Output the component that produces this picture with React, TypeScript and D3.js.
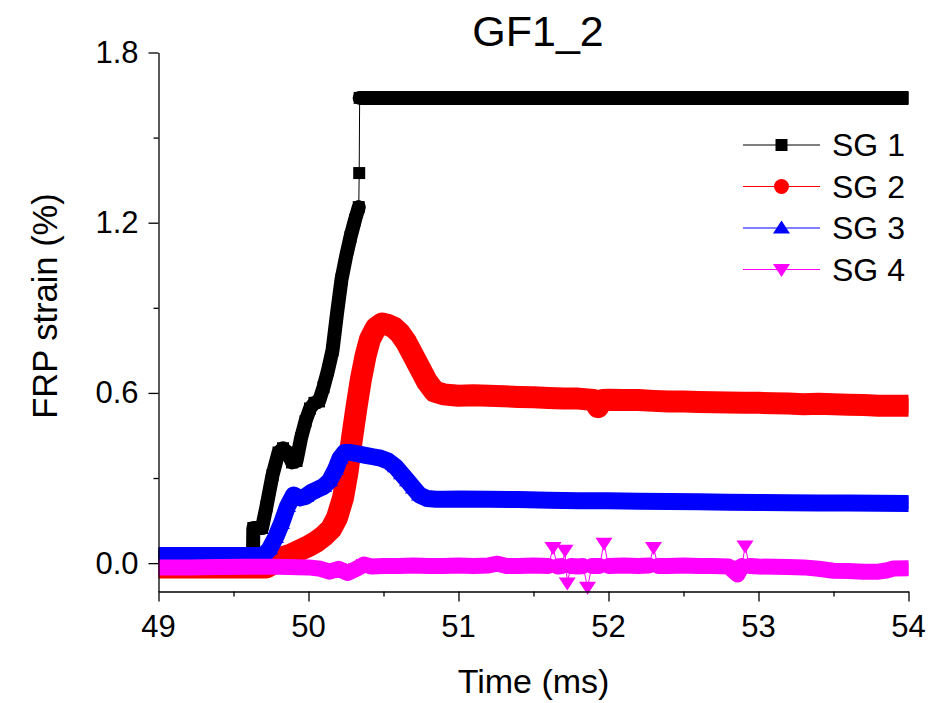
import React, { useEffect, useRef } from 'react';
import * as d3 from 'd3';

type Pt = [number, number];

// values (time in ms, strain in %)
const xTicks = [49, 50, 51, 52, 53, 54];
const xMinor = [49.5, 50.5, 51.5, 52.5, 53.5];
const yTicks = [0, 0.6, 1.2, 1.8];
const yMinor = [0.3, 0.9, 1.5];
const seriesNames = ['SG 1', 'SG 2', 'SG 3', 'SG 4'];

// each series is split where the logger jumps (thin line only between pieces)
const sg1: Pt[][] = [
  [[49.0, 0.025], [49.2, 0.025], [49.4, 0.025], [49.63, 0.025], [49.632, 0.124], [49.66, 0.124], [49.69, 0.124],
   [49.72, 0.2], [49.76, 0.31], [49.8, 0.39], [49.83, 0.405], [49.86, 0.39], [49.89, 0.355], [49.92, 0.36],
   [49.95, 0.44], [49.98, 0.5], [50.01, 0.545], [50.04, 0.565], [50.07, 0.57], [50.1, 0.62], [50.13, 0.68],
   [50.16, 0.75], [50.19, 0.88], [50.22, 1.0], [50.25, 1.08], [50.28, 1.15], [50.31, 1.21], [50.335, 1.255]],
  [[50.338, 1.375]],
  [[50.341, 1.64], [51, 1.64], [52, 1.64], [53, 1.64], [54, 1.64]],
];

const sg2: Pt[][] = [
  [[49.0, -0.015], [49.2, -0.015], [49.4, -0.015], [49.6, -0.015], [49.72, -0.015], [49.77, 0.0], [49.82, 0.02],
   [49.88, 0.03], [49.94, 0.045], [50.0, 0.06], [50.05, 0.075], [50.1, 0.095], [50.15, 0.12], [50.19, 0.16],
   [50.23, 0.23], [50.26, 0.32], [50.29, 0.44], [50.32, 0.55], [50.35, 0.65], [50.38, 0.73], [50.41, 0.79],
   [50.45, 0.83], [50.49, 0.845], [50.53, 0.84], [50.57, 0.83], [50.61, 0.81], [50.65, 0.78], [50.69, 0.74],
   [50.74, 0.69], [50.79, 0.64], [50.84, 0.605], [50.9, 0.595], [51.0, 0.59], [51.1, 0.592], [51.2, 0.59],
   [51.3, 0.588], [51.4, 0.586], [51.5, 0.585], [51.6, 0.582], [51.7, 0.58], [51.8, 0.58], [51.9, 0.575],
   [51.93, 0.55], [51.96, 0.575], [52.0, 0.576], [52.1, 0.575], [52.2, 0.575], [52.3, 0.572], [52.4, 0.57],
   [52.5, 0.57], [52.6, 0.568], [52.7, 0.567], [52.8, 0.566], [52.9, 0.565], [53.0, 0.565], [53.1, 0.564],
   [53.2, 0.563], [53.3, 0.56], [53.4, 0.562], [53.5, 0.56], [53.6, 0.558], [53.7, 0.557], [53.8, 0.555],
   [53.9, 0.555], [54.0, 0.555]],
];

const sg3: Pt[][] = [
  [[49.0, 0.027], [49.2, 0.027], [49.4, 0.027], [49.6, 0.027], [49.7, 0.027], [49.74, 0.05], [49.78, 0.09],
   [49.82, 0.14], [49.86, 0.2], [49.9, 0.24], [49.94, 0.23], [49.98, 0.235], [50.02, 0.25], [50.06, 0.26],
   [50.1, 0.27], [50.14, 0.29], [50.18, 0.33], [50.21, 0.37], [50.24, 0.39], [50.28, 0.39], [50.33, 0.385],
   [50.38, 0.38], [50.43, 0.375], [50.48, 0.37], [50.53, 0.36], [50.58, 0.34], [50.62, 0.315], [50.66, 0.29],
   [50.7, 0.265], [50.74, 0.24], [50.79, 0.228], [50.85, 0.225], [50.9, 0.225], [51.0, 0.226], [51.2, 0.225],
   [51.4, 0.224], [51.6, 0.222], [51.8, 0.22], [52.0, 0.22], [52.2, 0.218], [52.4, 0.217], [52.6, 0.216],
   [52.8, 0.215], [53.0, 0.214], [53.2, 0.213], [53.4, 0.212], [53.6, 0.212], [53.8, 0.211], [54.0, 0.21]],
];

const sg4: Pt[][] = [
  [[49.0, -0.015], [49.2, -0.015], [49.4, -0.014], [49.6, -0.013], [49.8, -0.013], [50.0, -0.015], [50.08, -0.02],
   [50.14, -0.03], [50.2, -0.02], [50.26, -0.035], [50.32, -0.02], [50.37, -0.005], [50.42, -0.012], [50.5, -0.01],
   [50.6, -0.01], [50.7, -0.008], [50.8, -0.01], [50.9, -0.01], [51.0, -0.008], [51.1, -0.01], [51.2, -0.008],
   [51.26, -0.002], [51.32, -0.01], [51.4, -0.01], [51.5, -0.008], [51.6, -0.01]],
  [[51.63, 0.055]],
  [[51.66, -0.012], [51.69, -0.01]],
  [[51.71, 0.045]],
  [[51.725, -0.07]],
  [[51.75, -0.01], [51.8, -0.012], [51.83, -0.01]],
  [[51.86, -0.085]],
  [[51.89, -0.01], [51.94, -0.01]],
  [[51.97, 0.07]],
  [[52.0, -0.01], [52.1, -0.008], [52.2, -0.01], [52.27, -0.008]],
  [[52.3, 0.055]],
  [[52.33, -0.01], [52.4, -0.01], [52.5, -0.008], [52.6, -0.01], [52.7, -0.01], [52.8, -0.012], [52.86, -0.04], [52.89, -0.01]],
  [[52.91, 0.06]],
  [[52.94, -0.01], [53.0, -0.012], [53.1, -0.013], [53.2, -0.014], [53.3, -0.015], [53.4, -0.02], [53.5, -0.027],
   [53.6, -0.028], [53.7, -0.03], [53.8, -0.03], [53.86, -0.025], [53.9, -0.019], [54.0, -0.018]],
];

const allSeries = [sg1, sg2, sg3, sg4];
const colors = ['#000000', '#ff0000', '#0000ff', '#ff00ff'];
const bandWidth = [14, 22, 17, 16];
const markers = [
  'M-6,-6h12v12h-12z',
  d3.symbol(d3.symbolCircle, Math.PI * 7.5 * 7.5)() as string,
  'M0,-7.5L8.5,5.5L-8.5,5.5Z',
  'M0,7.5L8.5,-5.5L-8.5,-5.5Z',
];

const FONT = 'Liberation Sans, Arial, Helvetica, sans-serif';

const App = () => {
  const svgRef = useRef<SVGSVGElement>(null);

  useEffect(() => {
    const width = 933;
    const height = 703;
    const margin = { top: 52.5, right: 24.5, bottom: 111.5, left: 158.5 };

    const svg = d3.select(svgRef.current);
    svg.selectAll('*').remove();

    const x = d3.scaleLinear().domain([49, 54]).range([margin.left, width - margin.right]);
    const y = d3.scaleLinear().domain([-0.1, 1.8]).range([height - margin.bottom, margin.top]);

    svg.append('clipPath').attr('id', 'plotClip')
      .append('rect')
      .attr('x', margin.left).attr('y', 0)
      .attr('width', width - margin.left - margin.right).attr('height', height);

    const line = d3.line<Pt>().x(d => x(d[0])).y(d => y(d[1]));

    const plot = svg.append('g').attr('clip-path', 'url(#plotClip)');

    allSeries.forEach((segs, i) => {
      const g = plot.append('g');
      // thin connecting line through every point
      g.append('path')
        .datum(segs.flat())
        .attr('d', line)
        .attr('fill', 'none')
        .attr('stroke', colors[i])
        .attr('stroke-width', 1);
      // dense markers merge into a band
      segs.filter(s => s.length > 1).forEach(s => {
        g.append('path')
          .datum(s)
          .attr('d', line)
          .attr('fill', 'none')
          .attr('stroke', colors[i])
          .attr('stroke-width', bandWidth[i])
          .attr('stroke-linejoin', 'round')
          .attr('stroke-linecap', 'round');
      });
      g.selectAll('path.mk')
        .data(segs.flat())
        .join('path')
        .attr('class', 'mk')
        .attr('d', markers[i])
        .attr('transform', d => `translate(${x(d[0])},${y(d[1])})`)
        .attr('fill', colors[i]);
    });

    // axes
    const xAxis = svg.append('g')
      .attr('transform', `translate(0,${height - margin.bottom})`)
      .call(d3.axisBottom(x).tickValues(xTicks).tickSize(10).tickSizeOuter(0).tickFormat(() => ''));
    svg.append('g')
      .attr('transform', `translate(0,${height - margin.bottom})`)
      .call(d3.axisBottom(x).tickValues(xMinor).tickSize(5).tickSizeOuter(0).tickFormat(() => ''))
      .select('.domain').remove();
    const yAxis = svg.append('g')
      .attr('transform', `translate(${margin.left},0)`)
      .call(d3.axisLeft(y).tickValues(yTicks).tickSize(10).tickSizeOuter(0).tickFormat(() => ''));
    svg.append('g')
      .attr('transform', `translate(${margin.left},0)`)
      .call(d3.axisLeft(y).tickValues(yMinor).tickSize(5).tickSizeOuter(0).tickFormat(() => ''))
      .select('.domain').remove();
    svg.selectAll('.domain, .tick line').attr('stroke', '#000').attr('stroke-width', 1.3);
    xAxis.raise();
    yAxis.raise();

    svg.append('g')
      .selectAll('text')
      .data(xTicks)
      .join('text')
      .attr('x', d => x(d))
      .attr('y', height - margin.bottom + 45)
      .attr('text-anchor', 'middle')
      .attr('font-family', FONT)
      .attr('font-size', 31)
      .text(d => d);

    svg.append('g')
      .selectAll('text')
      .data(yTicks)
      .join('text')
      .attr('x', margin.left - 20)
      .attr('y', d => y(d) + 10.5)
      .attr('text-anchor', 'end')
      .attr('font-family', FONT)
      .attr('font-size', 31)
      .text(d => d3.format('.1f')(d));

    svg.append('text')
      .attr('x', 538)
      .attr('y', 46)
      .attr('text-anchor', 'middle')
      .attr('font-family', FONT)
      .attr('font-size', 43)
      .text('GF1_2');

    svg.append('text')
      .attr('x', (margin.left + width - margin.right) / 2)
      .attr('y', 693)
      .attr('text-anchor', 'middle')
      .attr('font-family', FONT)
      .attr('font-size', 34)
      .text('Time (ms)');

    svg.append('text')
      .attr('transform', 'translate(57,306) rotate(-90)')
      .attr('text-anchor', 'middle')
      .attr('font-family', FONT)
      .attr('font-size', 34.5)
      .text('FRP strain (%)');

    // legend
    const legend = svg.append('g').attr('transform', 'translate(743,145)');
    seriesNames.forEach((name, i) => {
      const row = legend.append('g').attr('transform', `translate(0,${i * 41.5})`);
      row.append('line')
        .attr('x1', 0).attr('x2', 77)
        .attr('stroke', colors[i]).attr('stroke-width', 1.2);
      row.append('path')
        .attr('d', markers[i])
        .attr('transform', 'translate(38.5,0)')
        .attr('fill', colors[i]);
      row.append('text')
        .attr('x', 89)
        .attr('y', 11)
        .attr('font-family', FONT)
        .attr('font-size', 32)
        .text(name);
    });
  }, []);

  return (
    <svg
      ref={svgRef}
      width={933}
      height={703}
      style={{ position: 'absolute', left: 0, top: 0, background: '#fff' }}
    />
  );
};

export default App;
